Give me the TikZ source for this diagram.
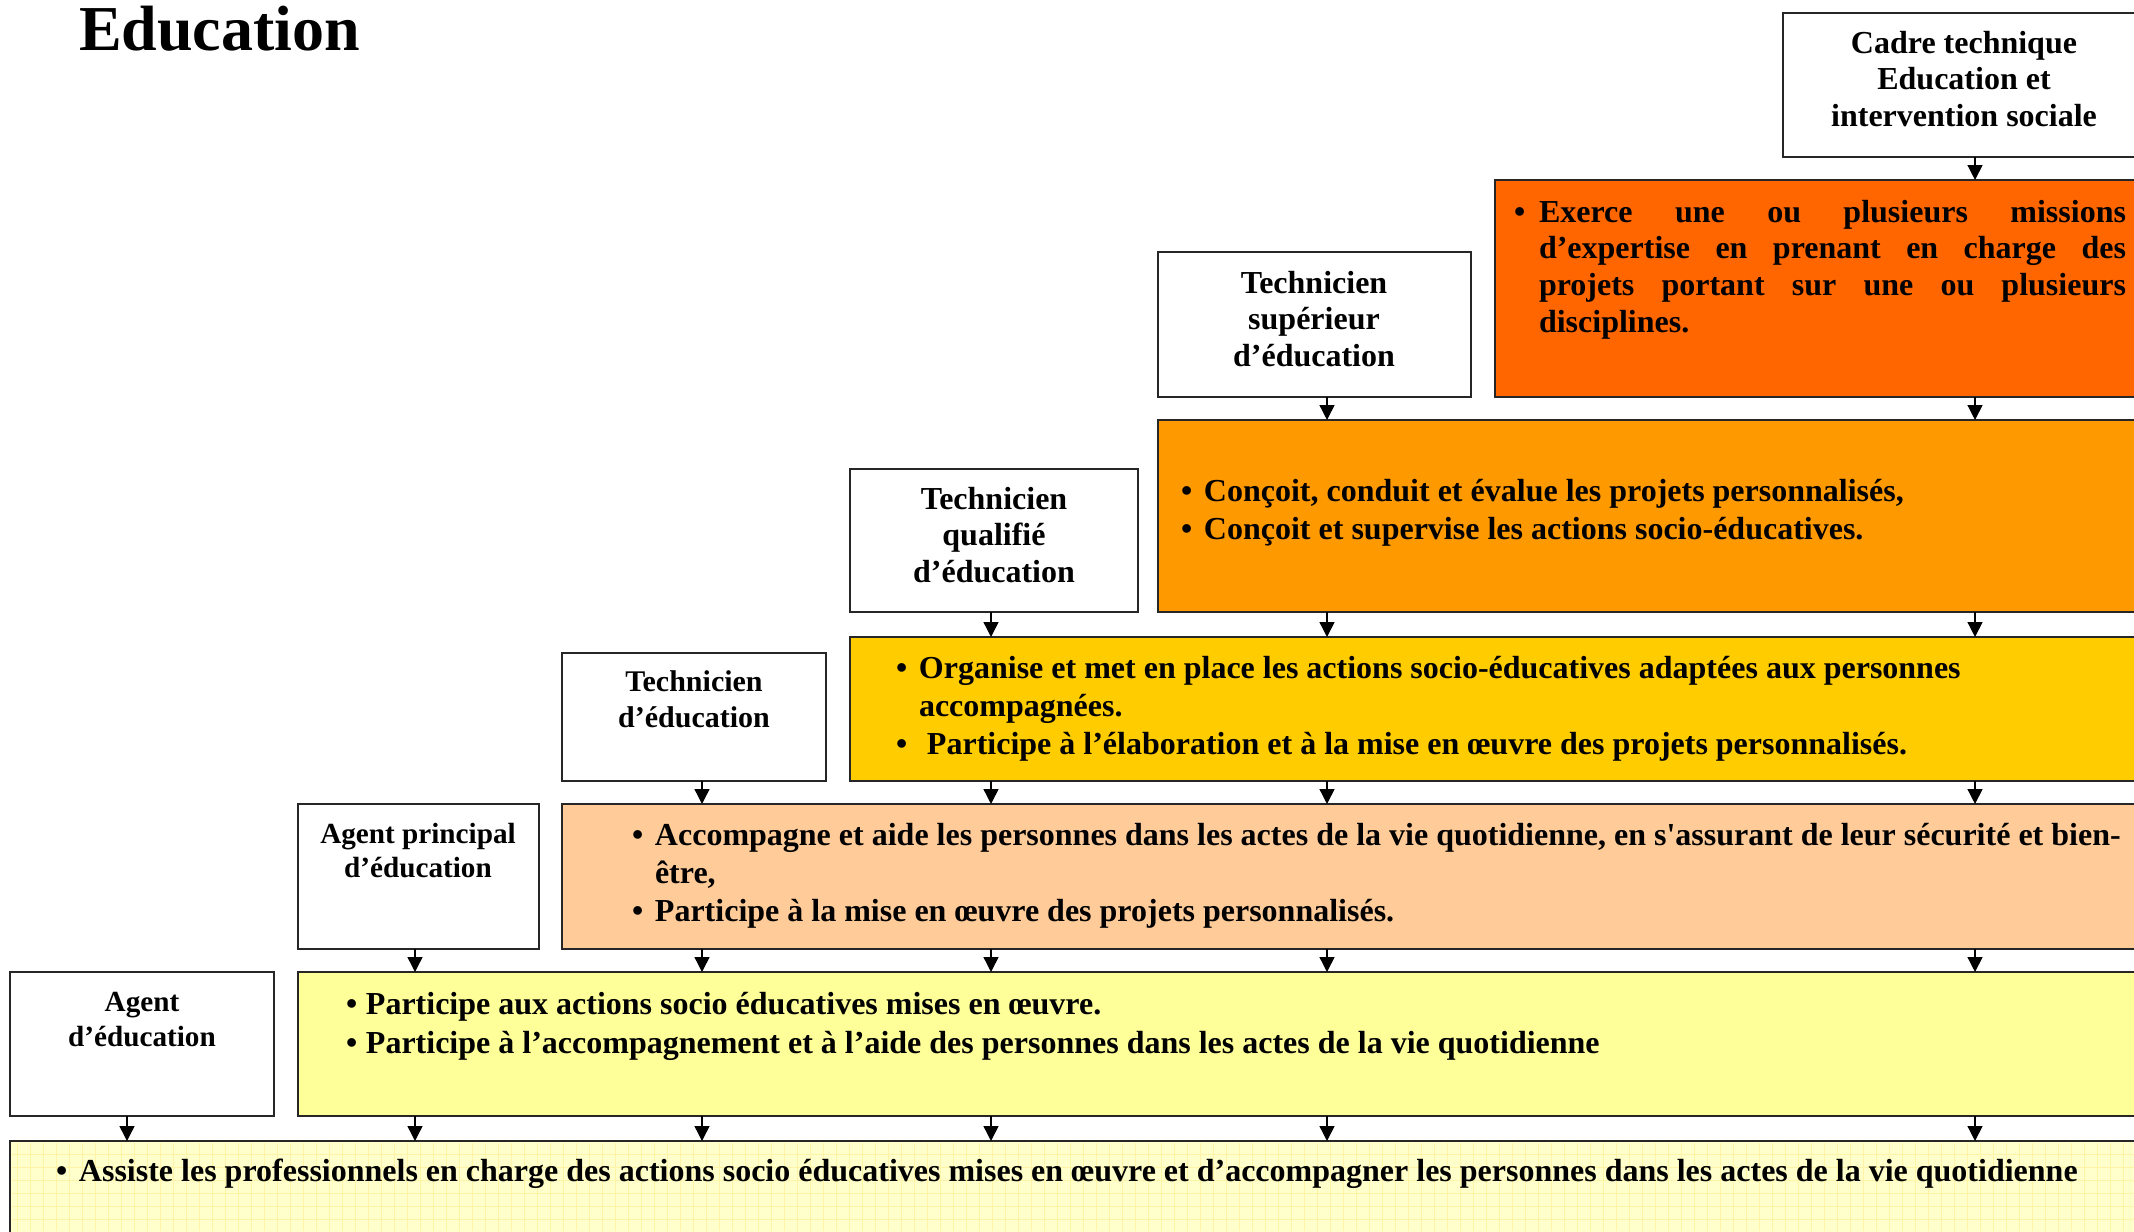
\documentclass[tikz,border=0pt]{standalone}
\usepackage{fontspec}
\setmainfont{Liberation Serif}[Ligatures=TeXOff]
\usetikzlibrary{arrows.meta}
\definecolor{cExp}{HTML}{FF6600}
\definecolor{cConc}{HTML}{FF9900}
\definecolor{cOrg}{HTML}{FFCC00}
\definecolor{cAcc}{HTML}{FFCC99}
\definecolor{cPart}{HTML}{FFFF99}
\definecolor{cAssist}{HTML}{FFFFCC}
\definecolor{cGrid}{HTML}{FFF3A6}
\newcommand\bitem[2]{\hangindent=#1\hangafter=1\noindent\makebox[#1][l]{•}#2\par}
\begin{document}
\begin{tikzpicture}[x=0.5pt,y=-0.5pt,
  box/.style={draw=black!85, line width=1pt, inner sep=0pt, outer sep=0pt, anchor=north west},
  txt/.style={inner sep=0pt, outer sep=0pt},
  nameA/.style={txt, anchor=base, font=\fontsize{16}{18.4}\selectfont\bfseries},
  nameB/.style={txt, anchor=base, font=\fontsize{14.6}{17.2}\selectfont\bfseries},
  body/.style={txt, anchor=base west, font=\fontsize{16}{19}\selectfont\bfseries},
  arr/.style={-{Triangle[width=7.5pt,length=7.5pt]}, line width=0.7pt, draw=black},
  gridl/.style={draw=cGrid, line width=0.35pt}
]
\useasboundingbox (0,0) rectangle (2134,1231);
\clip (0,0) rectangle (2134,1231);

% title
\node[txt, anchor=base west, font=\fontsize{32}{36}\selectfont\bfseries] (title) at (79,50) {Education};

% boxes
\node[box, minimum width=183.5pt, minimum height=72pt] (cadre) at (1783,13) {};
\node[box, fill=cExp, minimum width=327.5pt, minimum height=108.5pt] (exp) at (1495,180) {};
\node[box, minimum width=156.5pt, minimum height=72.5pt] (tsup) at (1158,252) {};
\node[box, fill=cConc, minimum width=496pt, minimum height=96pt] (conc) at (1158,420) {};
\node[box, minimum width=144pt, minimum height=71.5pt] (tqual) at (850,469) {};
\node[box, fill=cOrg, minimum width=650pt, minimum height=72pt] (org) at (850,637) {};
\node[box, minimum width=132pt, minimum height=64pt] (tedu) at (562,653) {};
\node[box, fill=cAcc, minimum width=794pt, minimum height=72.5pt] (acc) at (562,804) {};
\node[box, minimum width=120.5pt, minimum height=72.5pt] (apr) at (298,804) {};
\node[box, fill=cPart, minimum width=926pt, minimum height=72pt] (part) at (298,972) {};
\node[box, minimum width=132pt, minimum height=72pt] (agent) at (10,972) {};
\node[box, fill=cAssist, minimum width=1070pt, minimum height=54.5pt] (assist) at (10,1141) {};

% faint grid of the bottom box
\foreach \gx in {17,30,...,2150} \draw[gridl] (\gx,1143) -- (\gx,1231);
\foreach \gy in {1154,1167,...,1231} \draw[gridl] (12,\gy) -- (2150,\gy);

% names
\node[nameA] (lcadre) at (1964,53) {\parbox[t]{180pt}{\centering Cadre technique\\Education et\\intervention sociale}};
\node[nameA] (ltsup) at (1314,293) {\parbox[t]{150pt}{\centering Technicien\\supérieur\\d’éducation}};
\node[nameA] (ltqual) at (994,509) {\parbox[t]{140pt}{\centering Technicien\\qualifié\\d’éducation}};
\node[nameB, font=\fontsize{15}{18}\selectfont\bfseries] (ltedu) at (694,691) {\parbox[t]{130pt}{\centering Technicien\\d’éducation}};
\node[nameB] (lapr) at (418,843) {\parbox[t]{118pt}{\centering Agent principal\\d’éducation}};
\node[nameB, font=\fontsize{14.6}{17.5}\selectfont\bfseries] (lagent) at (142,1011) {\parbox[t]{130pt}{\centering Agent\\d’éducation}};

% missions
\node[body, font=\fontsize{16}{18.35}\selectfont\bfseries] (texp) at (1514,222) {\parbox[t]{306pt}{\parindent0pt
  \bitem{12.5pt}{Exerce une ou plusieurs missions\linebreak d’expertise en prenant en charge des\linebreak projets portant sur une ou plusieurs\linebreak disciplines.}}};
\node[body] (tconc) at (1181,501) {\parbox[t]{700pt}{\raggedright\parindent0pt
  \bitem{11.5pt}{Conçoit, conduit et évalue les projets personnalisés,}
  \bitem{11.5pt}{Conçoit et supervise les actions socio-éducatives.}}};
\node[body] (torg) at (896,678) {\parbox[t]{800pt}{\raggedright\parindent0pt
  \bitem{11.5pt}{Organise et met en place les actions socio-éducatives adaptées aux personnes\newline accompagnées.}
  \bitem{11.5pt}{\ Participe à l’élaboration et à la mise en œuvre des projets personnalisés.}}};
\node[body] (tacc) at (632,845) {\parbox[t]{900pt}{\raggedright\parindent0pt
  \bitem{11.5pt}{Accompagne et aide les personnes dans les actes de la vie quotidienne, en s'assurant de leur sécurité et bien-\newline être,}
  \bitem{11.5pt}{Participe à la mise en œuvre des projets personnalisés.}}};
\node[body, font=\fontsize{16}{19.5}\selectfont\bfseries] (tpart) at (346,1014) {\parbox[t]{900pt}{\raggedright\parindent0pt
  \bitem{10pt}{Participe aux actions socio éducatives mises en œuvre.}
  \bitem{10pt}{Participe à l’accompagnement et à l’aide des personnes dans les actes de la vie quotidienne}}};
\node[body] (tassist) at (56,1181) {\parbox[t]{1060pt}{\raggedright\parindent0pt
  \bitem{11.5pt}{Assiste les professionnels en charge des actions socio éducatives mises en œuvre et d’accompagner les personnes dans les actes de la vie quotidienne}}};

% arrow columns
\coordinate (k1) at (127,0);
\coordinate (k2) at (415,0);
\coordinate (k3) at (702,0);
\coordinate (k4) at (991,0);
\coordinate (k5) at (1327,0);
\coordinate (k6) at (1975,0);

% arrows
\draw[arr] (cadre.south -| k6) -- (exp.north -| k6);
\draw[arr] (exp.south -| k6) -- (conc.north -| k6);
\draw[arr] (tsup.south -| k5) -- (conc.north -| k5);
\draw[arr] (conc.south -| k6) -- (org.north -| k6);
\draw[arr] (conc.south -| k5) -- (org.north -| k5);
\draw[arr] (tqual.south -| k4) -- (org.north -| k4);
\draw[arr] (org.south -| k6) -- (acc.north -| k6);
\draw[arr] (org.south -| k5) -- (acc.north -| k5);
\draw[arr] (org.south -| k4) -- (acc.north -| k4);
\draw[arr] (tedu.south -| k3) -- (acc.north -| k3);
\draw[arr] (acc.south -| k6) -- (part.north -| k6);
\draw[arr] (acc.south -| k5) -- (part.north -| k5);
\draw[arr] (acc.south -| k4) -- (part.north -| k4);
\draw[arr] (acc.south -| k3) -- (part.north -| k3);
\draw[arr] (apr.south -| k2) -- (part.north -| k2);
\draw[arr] (part.south -| k6) -- (assist.north -| k6);
\draw[arr] (part.south -| k5) -- (assist.north -| k5);
\draw[arr] (part.south -| k4) -- (assist.north -| k4);
\draw[arr] (part.south -| k3) -- (assist.north -| k3);
\draw[arr] (part.south -| k2) -- (assist.north -| k2);
\draw[arr] (agent.south -| k1) -- (assist.north -| k1);
\end{tikzpicture}
\end{document}
